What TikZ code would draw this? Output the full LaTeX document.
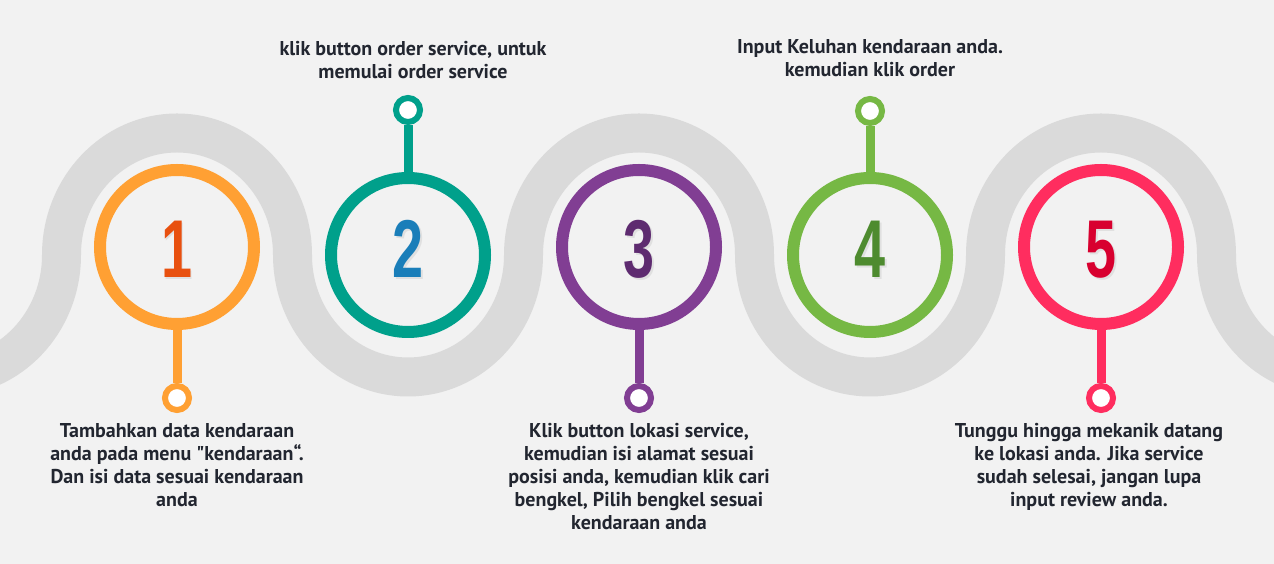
\documentclass[tikz,border=0pt]{standalone}
\usepackage{fontspec}
\setmainfont{PT Sans}[Ligatures=TeXOff]
\newfontfamily\numfont{Liberation Sans}[FakeStretch=0.68]
\usepackage{xcolor}
\usetikzlibrary{positioning}
\definecolor{bgc}{HTML}{F2F2F2}
\definecolor{roadc}{HTML}{DADADA}
\definecolor{txtc}{HTML}{222630}
\definecolor{ringA}{HTML}{FFA033}
\definecolor{ringB}{HTML}{00A08B}
\definecolor{ringC}{HTML}{813E93}
\definecolor{ringD}{HTML}{76B844}
\definecolor{ringE}{HTML}{FF2D5F}
\definecolor{numA}{HTML}{E8500F}
\definecolor{numB}{HTML}{1A7EB9}
\definecolor{numC}{HTML}{5E2B70}
\definecolor{numD}{HTML}{4E8B2F}
\definecolor{numE}{HTML}{D8002F}

\begin{document}
\begin{tikzpicture}[x=1pt, y=1pt,
    road/.style={draw=roadc, line width=39pt},
    ring/.style={circle, draw=#1, line width=12pt, minimum size=154pt, inner sep=0pt, fill=bgc},
    pin/.style={circle, draw=#1, line width=6pt, minimum size=24pt, inner sep=0pt, fill=white},
    stem/.style={draw=#1, line width=9pt},
    num/.style={anchor=base, inner sep=0pt, text=#1, font=\numfont\bfseries\fontsize{82}{82}\selectfont},
    note/.style={align=center, inner sep=0pt, text=txtc, font=\bfseries\fontsize{20}{23}\selectfont}
]
\useasboundingbox (0,0) rectangle (1274,564);
\fill[bgc] (0,0) rectangle (1274,564);

% winding road
\begin{scope}
\clip (0,0) rectangle (1274,564);
\draw[road] (-169.5,309)
    foreach \k in {1,...,4} {
      arc[start angle=180, end angle=360, x radius=115.5, y radius=122]
      arc[start angle=180, end angle=0, x radius=115.5, y radius=122]
    };
\end{scope}

% steps
\foreach \i/\x/\y/\py/\rc/\nc in {1/177/317/166/ringA/numA, 2/408/309/454/ringB/numB,
    3/639/317/166/ringC/numC, 4/870/309/453/ringD/numD, 5/1101/317/166/ringE/numE} {
  \node[ring=\rc] (ring\i) at (\x,\y) {};
  \node[pin=\rc] (pin\i) at (\x,\py) {};
  \draw[stem=\rc] (ring\i) -- (pin\i);
  \node[num=black!12] (shadow\i) at (\x+1.5,284.5) {\i};
  \node[num=\nc] (num\i) at (\x,286) {\i};
}

\node[note, below=10pt of pin1] (note1) {Tambahkan data kendaraan\\ anda pada menu "kendaraan“.\\ Dan isi data sesuai kendaraan\\ anda};
\node[note, above=16pt of pin2, xshift=5pt] (note2) {klik button order service, untuk\\ memulai order service};
\node[note, below=10pt of pin3] (note3) {Klik button lokasi service,\\ kemudian isi alamat sesuai\\ posisi anda, kemudian klik cari\\ bengkel, Pilih bengkel sesuai\\ kendaraan anda};
\node[note, above=19pt of pin4] (note4) {Input Keluhan kendaraan anda.\\ kemudian klik order};
\node[note, below=10pt of pin5, xshift=-12pt] (note5) {Tunggu hingga mekanik datang\\ ke lokasi anda. Jika service\\ sudah selesai, jangan lupa\\ input review anda.};
\end{tikzpicture}
\end{document}
